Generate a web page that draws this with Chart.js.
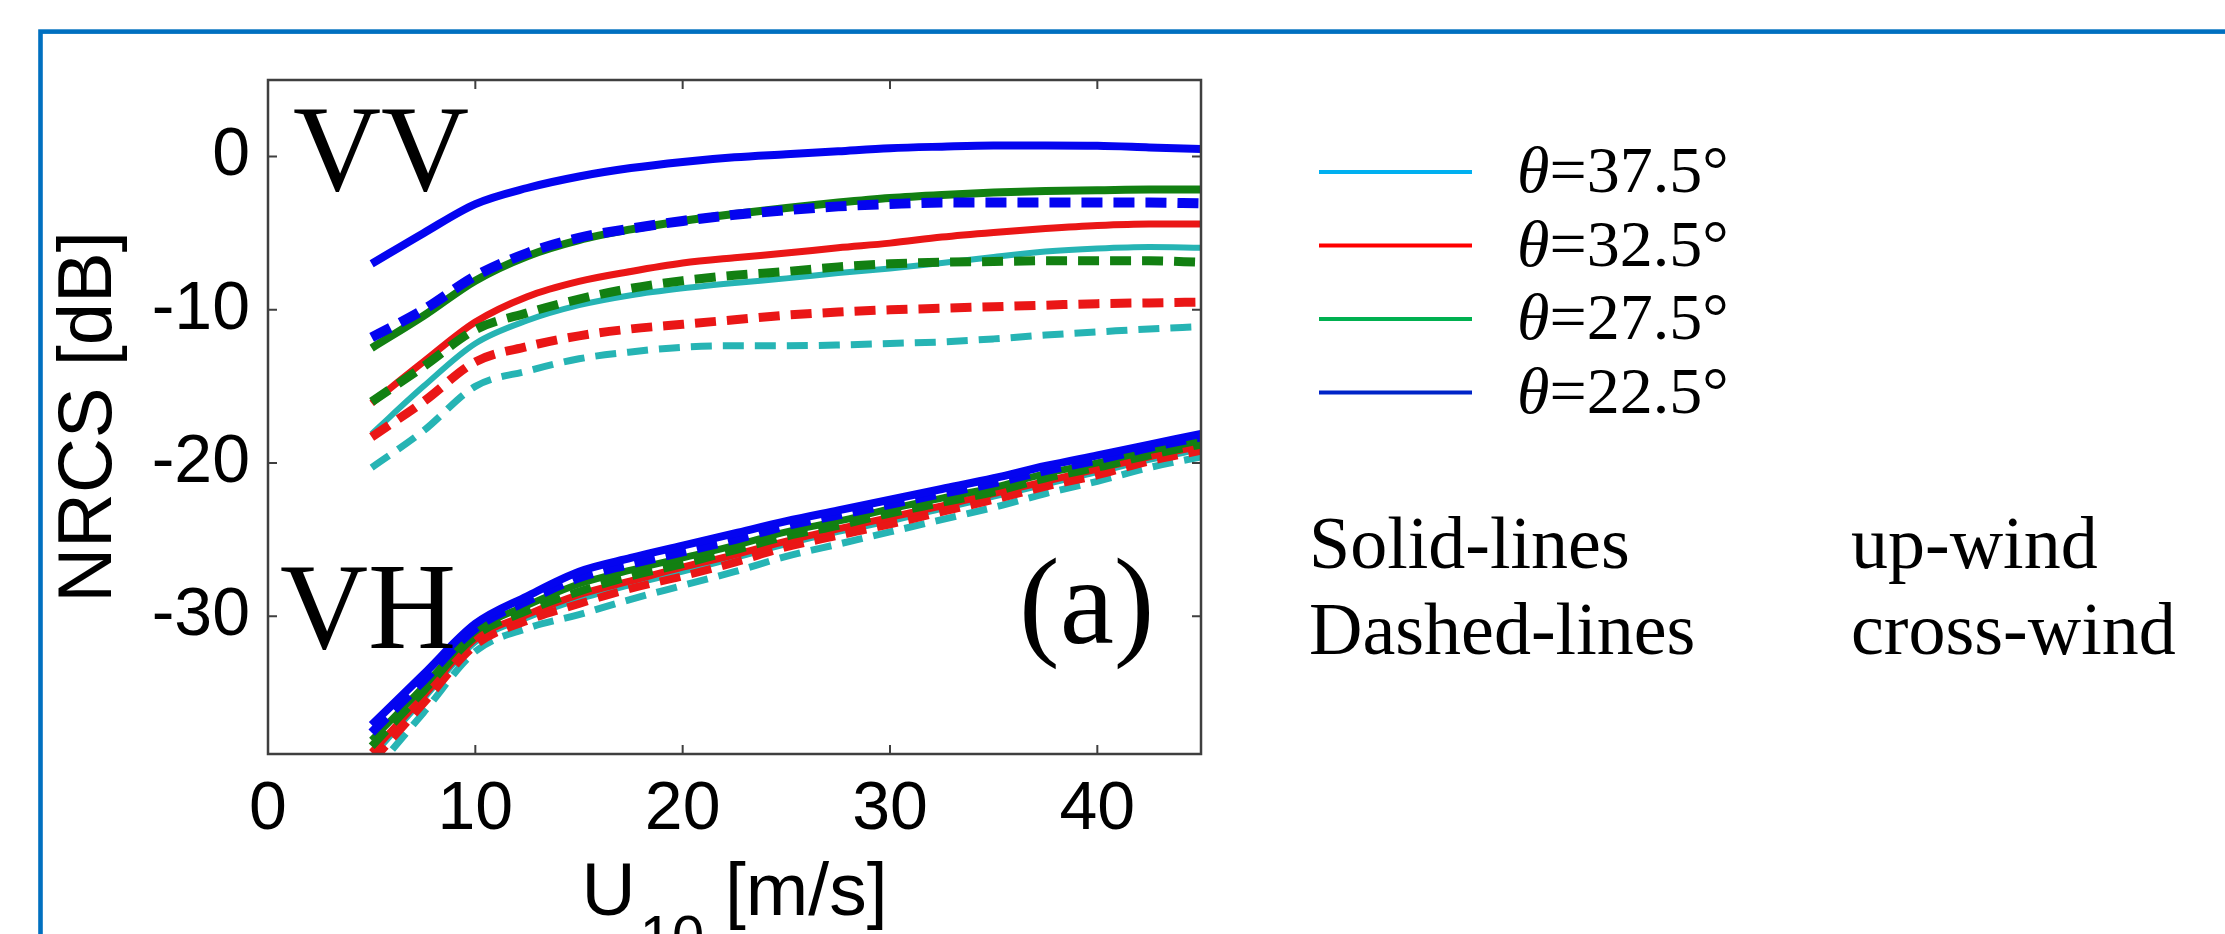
<!DOCTYPE html>
<html>
<head>
<meta charset="utf-8">
<script src="https://cdn.jsdelivr.net/npm/chart.js@4/dist/chart.umd.min.js"></script>
<style>
html,body{margin:0;padding:0;background:#ffffff;}
canvas{display:block;}
</style>
</head>
<body>
<canvas id="c" width="2225" height="934"></canvas>
<script>
// ---------------- data ----------------
const windSpeed = [5, 7.5, 10, 12.5, 15, 17.5, 20, 22.5, 25, 27.5, 30, 32.5, 35, 37.5, 40, 42.5, 45];
const xTicks = [0, 10, 20, 30, 40];
const yTicks = [0, -10, -20, -30];

// VV, up-wind (solid) and cross-wind (dashed)
const vvUp225    = [-7.0, -5.0, -3.1, -2.05, -1.3, -0.75, -0.35, -0.05, 0.15, 0.35, 0.55, 0.65, 0.72, 0.72, 0.7, 0.6, 0.5];
const vvCross225 = [-11.8, -10.0, -7.8, -6.3, -5.3, -4.7, -4.2, -3.8, -3.5, -3.25, -3.1, -3.0, -3.0, -3.0, -3.0, -3.0, -3.05];
const vvUp275    = [-12.5, -10.4, -8.1, -6.5, -5.45, -4.75, -4.2, -3.75, -3.35, -3.0, -2.7, -2.5, -2.35, -2.25, -2.2, -2.15, -2.15];
const vvCross275 = [-16.0, -13.7, -11.3, -10.2, -9.3, -8.6, -8.1, -7.75, -7.5, -7.2, -7.0, -6.9, -6.85, -6.8, -6.8, -6.8, -6.9];
const vvUp325    = [-16.1, -13.4, -10.8, -9.15, -8.15, -7.5, -6.95, -6.6, -6.3, -5.95, -5.65, -5.25, -4.95, -4.7, -4.5, -4.4, -4.4];
const vvCross325 = [-18.3, -16.0, -13.4, -12.4, -11.7, -11.25, -10.95, -10.65, -10.35, -10.15, -10.0, -9.9, -9.8, -9.7, -9.6, -9.55, -9.5];
const vvUp375    = [-18.1, -15.0, -12.2, -10.7, -9.7, -9.05, -8.6, -8.25, -7.95, -7.6, -7.3, -6.95, -6.55, -6.2, -6.0, -5.9, -5.95];
const vvCross375 = [-20.3, -17.9, -15.0, -14.0, -13.2, -12.75, -12.45, -12.35, -12.35, -12.3, -12.2, -12.1, -11.9, -11.65, -11.45, -11.25, -11.1];

// VH, up-wind (solid) and cross-wind (dashed)
const vhUp225    = [-37.1, -33.8, -30.5, -28.7, -27.1, -26.2, -25.4, -24.6, -23.8, -23.1, -22.4, -21.7, -21.0, -20.2, -19.5, -18.8, -18.1];
const vhCross225 = [-37.6, -34.2, -30.8, -29.0, -27.5, -26.6, -25.8, -25.0, -24.1, -23.4, -22.7, -22.0, -21.3, -20.5, -19.8, -19.0, -18.3];
const vhUp275    = [-38.1, -34.6, -31.0, -29.3, -27.9, -27.0, -26.2, -25.4, -24.5, -23.8, -23.0, -22.3, -21.6, -20.7, -20.0, -19.2, -18.55];
const vhCross275 = [-38.5, -34.9, -31.3, -29.65, -28.4, -27.4, -26.6, -25.7, -24.8, -24.1, -23.3, -22.6, -21.9, -21.0, -20.3, -19.5, -18.8];
const vhUp325    = [-38.9, -35.2, -31.5, -29.9, -28.6, -27.7, -26.8, -26.0, -25.1, -24.3, -23.55, -22.8, -22.0, -21.2, -20.4, -19.6, -18.9];
const vhCross325 = [-39.5, -35.7, -31.9, -30.3, -29.2, -28.2, -27.4, -26.5, -25.5, -24.75, -24.0, -23.2, -22.4, -21.55, -20.8, -19.9, -19.2];
const vhUp375    = [-39.2, -35.4, -31.7, -30.1, -28.9, -27.95, -27.1, -26.2, -25.3, -24.5, -23.8, -23.0, -22.2, -21.4, -20.6, -19.8, -19.1];
const vhCross375 = [-40.3, -36.3, -32.3, -30.8, -29.9, -28.9, -28.0, -27.1, -26.1, -25.3, -24.5, -23.7, -22.9, -22.0, -21.2, -20.3, -19.6];

// legend
const legendAngles = ['37.5', '32.5', '27.5', '22.5'];
const legendColors = ['#00B0F0', '#FF0000', '#00B050', '#0024C8'];
const noteLines = ['Solid-lines', 'Dashed-lines'];
const noteMeanings = ['up-wind', 'cross-wind'];

// ---------------- styles ----------------
const cBlue = 'rgb(4,4,240)', cGreen = 'rgb(18,128,18)', cRed = 'rgb(234,22,22)', cCyan = 'rgb(38,180,180)';
const DASH = [21, 11];

// drawn order: first dataset is on top
const seriesDefs = [
  {label:'VV 22.5 cross', d: vvCross225, c: cBlue,  dash: true,  w: 10},
  {label:'VV 22.5 up',    d: vvUp225,    c: cBlue,  dash: false, w: 8},
  {label:'VH 22.5 up',    d: vhUp225,    c: cBlue,  dash: false, w: 8},
  {label:'VH 22.5 cross', d: vhCross225, c: cBlue,  dash: true,  w: 9},
  {label:'VV 27.5 cross', d: vvCross275, c: cGreen, dash: true,  w: 9},
  {label:'VV 27.5 up',    d: vvUp275,    c: cGreen, dash: false, w: 8},
  {label:'VH 27.5 up',    d: vhUp275,    c: cGreen, dash: false, w: 7},
  {label:'VH 27.5 cross', d: vhCross275, c: cGreen, dash: true,  w: 8},
  {label:'VV 32.5 cross', d: vvCross325, c: cRed,   dash: true,  w: 9},
  {label:'VV 32.5 up',    d: vvUp325,    c: cRed,   dash: false, w: 7},
  {label:'VH 32.5 up',    d: vhUp325,    c: cRed,   dash: false, w: 7},
  {label:'VH 32.5 cross', d: vhCross325, c: cRed,   dash: true,  w: 8},
  {label:'VV 37.5 cross', d: vvCross375, c: cCyan,  dash: true,  w: 7},
  {label:'VV 37.5 up',    d: vvUp375,    c: cCyan,  dash: false, w: 6},
  {label:'VH 37.5 up',    d: vhUp375,    c: cCyan,  dash: false, w: 6},
  {label:'VH 37.5 cross', d: vhCross375, c: cCyan,  dash: true,  w: 7}
];

const datasets = seriesDefs.map(s => ({
  label: s.label,
  data: windSpeed.map((x, i) => ({x: x, y: s.d[i]})),
  borderColor: s.c,
  backgroundColor: s.c,
  borderWidth: s.w,
  borderDash: s.dash ? DASH : [],
  borderCapStyle: 'butt',
  borderJoinStyle: 'round',
  pointRadius: 0,
  cubicInterpolationMode: 'monotone',
  fill: false,
  clip: 0
}));

const SANS = '"Liberation Sans", Arial, sans-serif';
const SERIF = '"Liberation Serif", "Times New Roman", serif';

const decor = {
  id: 'decor',
  afterDraw(chart) {
    const ctx = chart.ctx, a = chart.chartArea;
    const xs = chart.scales.x, ys = chart.scales.y;
    ctx.save();
    // axes box
    ctx.strokeStyle = '#3f3f3f';
    ctx.lineWidth = 2.5;
    ctx.strokeRect(a.left, a.top, a.right - a.left, a.bottom - a.top);
    // inward ticks on all four sides
    const tl = 9;
    ctx.beginPath();
    xTicks.forEach(v => {
      const px = xs.getPixelForValue(v);
      ctx.moveTo(px, a.bottom); ctx.lineTo(px, a.bottom - tl);
      ctx.moveTo(px, a.top); ctx.lineTo(px, a.top + tl);
    });
    yTicks.forEach(v => {
      const py = ys.getPixelForValue(v);
      ctx.moveTo(a.left, py); ctx.lineTo(a.left + tl, py);
      ctx.moveTo(a.right, py); ctx.lineTo(a.right - tl, py);
    });
    ctx.lineWidth = 2;
    ctx.stroke();

    // panel labels
    ctx.fillStyle = '#000';
    ctx.textBaseline = 'alphabetic';
    ctx.textAlign = 'left';
    ctx.font = '122px ' + SERIF;
    ctx.fillText('VV', a.left + 25, a.top + 110);
    ctx.fillText('VH', a.left + 12, a.top + 568);
    ctx.fillText('(a)', a.right - 182, a.top + 563);

    // y axis title
    ctx.save();
    ctx.translate(90, (a.top + a.bottom) / 2);
    ctx.rotate(-Math.PI / 2);
    ctx.font = '76px ' + SANS;
    ctx.textAlign = 'center';
    ctx.textBaseline = 'middle';
    ctx.fillText('NRCS [dB]', 0, 0);
    ctx.restore();

    // x axis title with subscript
    const cx = (a.left + a.right) / 2;
    const base = 915;
    ctx.font = '75px ' + SANS;
    const wU = ctx.measureText('U').width;
    const wRest = ctx.measureText(' [m/s]').width;
    ctx.font = '58px ' + SANS;
    const wSub = ctx.measureText('10').width;
    const total = wU + wSub + wRest + 4;
    let x0 = cx - total / 2;
    ctx.font = '75px ' + SANS;
    ctx.fillText('U', x0, base);
    ctx.font = '58px ' + SANS;
    ctx.fillText('10', x0 + wU + 4, base + 41);
    ctx.font = '75px ' + SANS;
    ctx.fillText(' [m/s]', x0 + wU + 4 + wSub, base);

    // legend
    const lx0 = 1319, lx1 = 1472, tx = 1517, y0 = 172, dy = 73.5;
    legendAngles.forEach((ang, i) => {
      const y = y0 + i * dy;
      ctx.beginPath();
      ctx.strokeStyle = legendColors[i];
      ctx.lineWidth = 4;
      ctx.moveTo(lx0, y); ctx.lineTo(lx1, y);
      ctx.stroke();
      ctx.fillStyle = '#000';
      ctx.font = 'italic 66px ' + SERIF;
      ctx.fillText('\u03B8', tx, y + 20);
      const wt = ctx.measureText('\u03B8').width;
      ctx.font = '66px ' + SERIF;
      ctx.fillText('=' + ang + '\u00B0', tx + wt, y + 20);
    });

    // notes
    ctx.font = '74px ' + SERIF;
    noteLines.forEach((t, i) => {
      const y = 568 + i * 86;
      ctx.fillText(t, 1309, y);
      ctx.fillText(noteMeanings[i], 1851, y);
    });

    // outer blue frame
    ctx.strokeStyle = '#0070C0';
    ctx.lineWidth = 4.6;
    ctx.strokeRect(40.5, 31.6, 2300, 1000);
    ctx.restore();
  }
};

new Chart(document.getElementById('c'), {
  type: 'line',
  data: {datasets: datasets},
  options: {
    responsive: false,
    animation: false,
    devicePixelRatio: 1,
    layout: {padding: {left: 0, right: 1024, top: 80, bottom: 0}},
    plugins: {legend: {display: false}, tooltip: {enabled: false}},
    scales: {
      x: {
        type: 'linear', min: 0, max: 45,
        afterBuildTicks: s => { s.ticks = xTicks.map(v => ({value: v})); },
        afterFit: s => { s.height = 180; },
        grid: {display: false, drawTicks: false},
        border: {display: false},
        ticks: {font: {family: SANS, size: 68}, color: '#000', padding: 15, maxRotation: 0, autoSkip: false}
      },
      y: {
        type: 'linear', min: -39, max: 5,
        afterBuildTicks: s => { s.ticks = yTicks.map(v => ({value: v})); },
        afterFit: s => { s.width = 268; },
        grid: {display: false, drawTicks: false},
        border: {display: false},
        ticks: {font: {family: SANS, size: 68}, color: '#000', padding: 18, autoSkip: false}
      }
    }
  },
  plugins: [decor]
});
</script>
</body>
</html>
